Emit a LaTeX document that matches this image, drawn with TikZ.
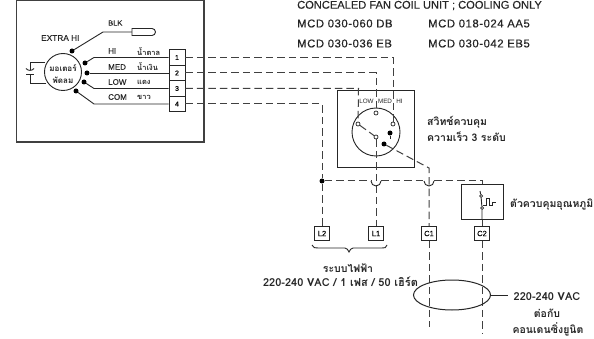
\documentclass[tikz,border=0pt]{standalone}
\usepackage{fontspec}
\usetikzlibrary{shapes.geometric}
\setmainfont{Liberation Sans}
\newfontfamily\thaifont[Script=Thai]{Loma}
\newfontfamily\hdfont[FakeBold=0.35]{Liberation Sans}
\newfontfamily\hdwide[FakeBold=0.35,LetterSpace=5]{Liberation Sans}
\newfontfamily\lfont[FakeBold=0.12]{Liberation Sans}
\newcommand{\hd}{\hdfont\fontsize{11.1}{13}\selectfont}
\newcommand{\hdw}{\hdwide\fontsize{11.3}{13}\selectfont}
\newcommand{\thl}{\thaifont\fontsize{10.5}{12}\selectfont\bfseries}
\newcommand{\thm}{\thaifont\fontsize{11}{12}\selectfont\bfseries}
\newcommand{\ths}{\thaifont\fontsize{7.5}{8}\selectfont}
\newcommand{\lab}{\lfont\fontsize{8}{9}\selectfont}
\tikzset{
 wire/.style={line width=0.9pt,draw=black!85},
 dwire/.style={line width=1pt,draw=black!75,dash pattern=on 7.5pt off 4pt},
 term/.style={draw=black!85,line width=0.9pt,fill=white,inner sep=0pt,minimum width=15pt,minimum height=14pt,font=\lfont\fontsize{7.5}{8}\selectfont},
 strip/.style={draw=black!85,line width=0.9pt,fill=white,inner sep=0pt,minimum width=16pt,minimum height=15.5pt,font=\lfont\fontsize{7}{8}\selectfont},
 fdot/.style={circle,fill=black,inner sep=0pt,minimum size=5pt},
 odot/.style={circle,draw=black!85,line width=0.7pt,fill=white,inner sep=0pt,minimum size=4pt},
 txt/.style={inner sep=0pt,text=black!85},
}
\begin{document}
\begin{tikzpicture}[x=1pt,y=-1pt]
\useasboundingbox[fill=white] (0,0) rectangle (594,339);
% outer frame
\draw[line width=1.2pt,draw=black!75] (16.5,0.5) rectangle (204,142);
% motor
\node[draw=black!85,line width=0.9pt,circle,minimum size=37pt,inner sep=0pt,align=center] (motor) at (63,72) {};
\node[txt] at (63,68) {\thaifont\fontsize{8}{8}\selectfont\bfseries มอเตอร์};
\node[txt] at (63,80) {\thaifont\fontsize{8}{8}\selectfont\bfseries พัดลม};
\node[fdot] (dx) at (72,51) {};
\node[fdot] (dh) at (85,63) {};
\node[fdot] (dm) at (87,73) {};
\node[fdot] (dl) at (84,82) {};
\node[fdot] (dc) at (76,91) {};
\coordinate (bk) at (132,32);
\draw[wire] (dx) -- (103,32) -- (bk);
\draw[wire,fill=white] (132,28.5) -- (152,28.5) arc[start angle=-90,end angle=90,radius=3.5] -- (132,35.5) -- cycle;
% terminal strip
\node[strip] (t1) at (177,57.5) {1};
\node[strip] (t2) at (177,73) {2};
\node[strip] (t3) at (177,88.5) {3};
\node[strip] (t4) at (177,104) {4};
\draw[wire] (dh) -- (94,57.5) -- (t1.west);
\draw[wire] (dm) -- (t2.west);
\draw[wire] (dl) -- (94,88.5) -- (t3.west);
\draw[wire] (dc) -- (94,104) -- (t4.west);
% capacitor
\coordinate (c1) at (45,62);
\coordinate (c2) at (46,83);
\draw[wire] (c1) -- (30,62) -- (30,70);
\draw[wire] (c2) -- (30,83) -- (30,74);
\draw[wire] (26,68.5) .. controls (28,71) and (32,71) .. (34,68.5);
\draw[wire] (26,74) -- (34,74);
% labels left
\node[txt,anchor=west] at (108,23) {\lfont\fontsize{7.5}{8}\selectfont BLK};
\node[txt,anchor=west] at (41,38) {\lfont\fontsize{8.3}{9}\selectfont EXTRA HI};
\node[txt,anchor=west] at (108,51) {\lab HI};
\node[txt,anchor=west] at (108,67) {\lab MED};
\node[txt,anchor=west] at (108,82) {\lab LOW};
\node[txt,anchor=west] at (108,97) {\lab COM};
\node[txt,anchor=west] at (137,52) {\ths\bfseries น้ำตาล};
\node[txt,anchor=west] at (137,67) {\ths\bfseries น้ำเงิน};
\node[txt,anchor=west] at (137,82) {\ths\bfseries แดง};
\node[txt,anchor=west] at (137,97) {\ths\bfseries ขาว};
% heading
\node[txt,anchor=west] at (297,5.5) {\hd CONCEALED FAN COIL UNIT ; COOLING ONLY};
\node[txt,anchor=west] at (297,23.5) {\hdw MCD 030-060 DB};
\node[txt,anchor=west] at (428,23.5) {\hdw MCD 018-024 AA5};
\node[txt,anchor=west] at (297,43.5) {\hdw MCD 030-036 EB};
\node[txt,anchor=west] at (428,43.5) {\hdw MCD 030-042 EB5};
% switch
\draw[line width=1pt,draw=black!85] (337,91) rectangle (414,168);
\node[draw=black!85,line width=0.9pt,circle,minimum size=48pt,inner sep=0pt] (sw) at (376,132) {};
\node[odot] (sm) at (376,113) {};
\node[odot] (sl) at (358,124) {};
\node[odot] (sh) at (393,124) {};
\node[odot] (sc) at (376,137) {};
\node[fdot] (f1) at (390,133) {};
\node[fdot] (f2) at (384,144) {};
\draw[wire] (f1) -- (390,139);
% bottom terminals
\node[term] (L2) at (322,233.5) {L2};
\node[term] (L1) at (376,233.5) {L1};
\node[term] (C1) at (429,233.5) {C1};
\node[term] (C2) at (482,233.5) {C2};
% thermostat
\node[draw=black!85,line width=1pt,minimum width=42pt,minimum height=34pt,inner sep=0pt] (th) at (482,202) {};
% dashed wiring
\node[fdot] (jn) at (322,181) {};
\coordinate (b1a) at (371,181);
\coordinate (b1b) at (381,181);
\coordinate (b2a) at (424,181);
\coordinate (b2b) at (434,181);
\draw[dwire] (t1.east) -- (393,57.5) -- (sh);
\draw[dwire] (t2.east) -- (376,73) -- (sm);
\draw[dwire] (t3.east) -- (358.5,88.5) -- (sl);
\draw[dwire] (t4.east) -- (322,104) -- (jn) -- (L2);
\draw[dwire] (sl) -- (sc);
\draw[dwire] (sc) -- (L1);
\draw[dwire] (f2) -- (429,168) -- (C1);
\draw[dwire] (C1) -- (429,327);
\draw[dwire] (C2) -- (482,333);
\draw[dwire] (jn) -- (b1a);
\draw[wire] (b1a) arc[start angle=180,end angle=0,radius=5];
\draw[dwire] (b1b) -- (b2a);
\draw[wire] (b2a) arc[start angle=180,end angle=0,radius=5];
\draw[dwire] (b2b) -- (482,181) -- (th.north);
\draw[dwire] (th.south) -- (C2);
% switch labels
\node[txt] at (366.5,101) {\fontsize{6.3}{7}\selectfont LOW};
\node[txt] at (385,101) {\fontsize{6.3}{7}\selectfont MED};
\node[txt] at (399.5,101) {\fontsize{6.3}{7}\selectfont HI};
\node[txt,anchor=west] at (427,122) {\thl สวิทช์ควบคุม};
\node[txt,anchor=west] at (427,137) {\thl ความเร็ว 3 ระดับ};
% thermostat symbol
\node[odot,minimum size=3pt] (ta) at (481,196) {};
\node[odot,minimum size=3pt] (tb) at (482,208) {};
\draw[wire] (480,191) -- (ta) -- (tb) -- (th.south);
\draw[wire] (483,205) -- (486,205) -- (486,198) -- (489.5,198) -- (489.5,205) -- (492,205) -- (492,202) -- (496,202);
\node[txt,anchor=west] at (510,205) {\thl ตัวควบคุมอุณหภูมิ};
% brace
\draw[wire] (312,245) .. controls (313,248) and (315,248) .. (318,248) -- (345,248) .. controls (347,248) and (348,250) .. (349,252) .. controls (350,250) and (351,248) .. (353,248) -- (382,248) .. controls (385,248) and (386,248) .. (387,245);
\node[txt] at (348,268) {\thl ระบบไฟฟ้า};
\node[txt] at (340.5,282) {\thm 220-240 VAC / 1 เฟส / 50 เฮิร์ต};
% ellipse
\node[draw=black!85,line width=1pt,ellipse,minimum width=77pt,minimum height=30pt,inner sep=0pt] (el) at (452,295) {};
\coordinate (elx) at (508,295);
\draw[wire] (el) -- (elx);
\node[txt] at (547,297) {\thm 220-240 VAC};
\node[txt] at (547,313) {\thl ต่อกับ};
\node[txt] at (548,329) {\thl คอนเดนซิ่งยูนิต};
\end{tikzpicture}
\end{document}
